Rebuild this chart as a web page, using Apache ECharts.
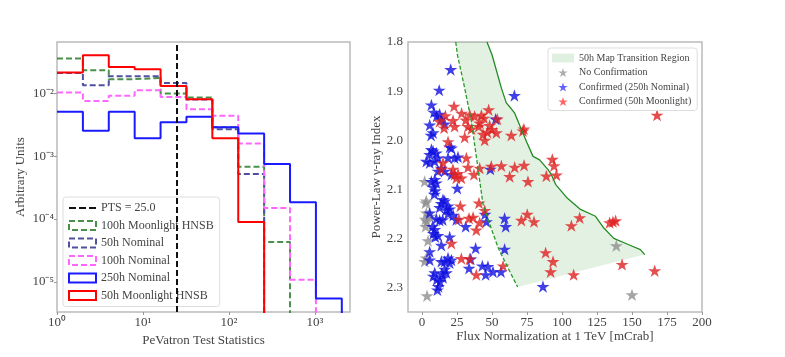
<!DOCTYPE html>
<html>
<head>
<meta charset="utf-8">
<script src="https://cdn.jsdelivr.net/npm/echarts@6/dist/echarts.min.js"></script>
<style>
html, body { margin: 0; padding: 0; background: #fff; }
#chart { width: 785px; height: 357px; }
</style>
</head>
<body>
<div id="chart"></div>
<script>
// ---- left panel: PTS histograms (bins are powers of 2) ----
const binEdges = [1, 2, 4, 8, 16, 32, 64, 128, 256, 512, 1024, 2048];
const moon100 = [0.036, 0.0234, 0.0169, 0.0177, 0.0100, 0.0086, 0.0029, 0.00068, 0.000043];
const nominal50 = [0.0212, 0.0135, 0.0188, 0.0188, 0.0147, 0.0080, 0.0027, 0.00052];
const nominal100 = [0.0104, 0.0076, 0.0092, 0.0112, 0.0088, 0.0056, 0.0044, 0.0016, 0.00015, 0.0000108];
const nominal250 = [0.0051, 0.00255, 0.0051, 0.00193, 0.00347, 0.00426, 0.0029, 0.0023, 0.000755, 0.000184, 0.0000054];
const moon50 = [0.0215, 0.0405, 0.0264, 0.0243, 0.0132, 0.0081, 0.00193, 0.0000895];
const ptsCut = 25.0;

// ---- right panel: transition region edges ----
const edgeDashX = [24.1, 25.3, 30.5, 35.3, 37.6, 43.6, 49.5, 54.5, 59, 63.5, 68.3];
const edgeDashY = [1.8, 1.826, 1.894, 1.962, 2.009, 2.131, 2.18, 2.22, 2.246, 2.272, 2.299];
const edgeSolidX = [46.4, 50, 56.7, 60.2, 63.5, 66.2, 71, 75, 79.3, 84, 90, 92.4, 95.4, 103.7, 113.2, 123.9, 129.9, 137, 147.7, 156, 159.1];
const edgeSolidY = [1.8, 1.826, 1.894, 1.924, 1.935, 1.945, 1.978, 2.005, 2.033, 2.04, 2.06, 2.07, 2.09, 2.118, 2.141, 2.155, 2.179, 2.2, 2.213, 2.223, 2.233];

// sources: [flux mCrab, index]
const noConfirm = [[1.9, 2.084], [3.1, 2.124], [2.6, 2.128], [3.1, 2.148], [5.5, 2.155], [2.4, 2.161], [3.5, 2.165],
  [2.6, 2.176], [4.3, 2.205], [1.9, 2.247], [3.1, 2.24], [3.6, 2.317], [138.8, 2.215], [150, 2.315]];
const confNominal = [[20.5, 1.856], [12.3, 1.898], [66, 1.909], [6.7, 1.928], [8.5, 1.943], [12.6, 1.947], [13.8, 1.957],
  [10.5, 1.951], [16.2, 1.967], [5.5, 1.969], [7.9, 1.985], [6.5, 1.99], [52.6, 1.957], [19.8, 2.014], [6.7, 2.019],
  [7.9, 2.022], [10.2, 2.026], [5.5, 2.029], [11.4, 2.036], [3.1, 2.043], [5.5, 2.046], [9.1, 2.043], [21, 2.016],
  [18.6, 2.036], [23.3, 2.036], [25.7, 2.034], [13.8, 2.057], [16.2, 2.063], [11.4, 2.063], [21, 2.07], [48.8, 2.059],
  [9.1, 2.08], [6.7, 2.084], [10.2, 2.087], [25.2, 2.098], [8.1, 2.096], [9.5, 2.103], [8.8, 2.11], [15, 2.121],
  [16.2, 2.124], [13.8, 2.129], [12.6, 2.137], [18.6, 2.134], [17.4, 2.142], [19.8, 2.14], [5.5, 2.148], [10.2, 2.16],
  [12.6, 2.163], [14.8, 2.162], [18.6, 2.15], [22.3, 2.153], [24.5, 2.162], [31.2, 2.176], [7.5, 2.176], [9.1, 2.182],
  [8.1, 2.19], [9.5, 2.197], [11.4, 2.194], [19.8, 2.197], [13.8, 2.214], [5.5, 2.227], [5.5, 2.244], [18.6, 2.24],
  [21, 2.244], [19.8, 2.25], [16.2, 2.247], [13.8, 2.247], [38.3, 2.22], [34.8, 2.242], [33.6, 2.261], [43.1, 2.256],
  [47.1, 2.257], [45.5, 2.274], [50.7, 2.268], [56.4, 2.268], [59, 2.159], [59.8, 2.176], [59, 2.222], [45, 2.151],
  [46, 2.166], [86.4, 2.298], [8.1, 2.277], [10.5, 2.284], [11.7, 2.298], [12.9, 2.288], [15, 2.28], [17.4, 2.27],
  [16.2, 2.263], [9.1, 2.27], [14, 2.272], [11, 2.305]];
const confMoon = [[22.9, 1.931], [16.7, 1.95], [28.3, 1.945], [34.1, 1.948], [37.6, 1.951], [42.4, 1.949], [47.6, 1.938],
  [22.2, 1.96], [23.3, 1.972], [31.2, 1.959], [32.9, 1.972], [41.2, 1.965], [44.3, 1.955], [53.8, 1.957], [15.8, 1.975],
  [12.6, 1.962], [35.3, 1.977], [40.5, 1.972], [48.3, 1.97], [50, 1.978], [43.6, 1.988], [46.7, 1.984], [53.1, 1.985],
  [30.5, 1.994], [44.8, 2.0], [63.8, 1.99], [72.1, 1.981], [72.8, 1.977], [18.6, 2.003], [93.1, 2.039], [94.3, 2.052],
  [96, 2.071], [88.8, 2.073], [75.7, 2.084], [62.6, 2.074], [66.2, 2.055], [72.9, 2.051], [56.7, 2.052], [49.5, 2.053],
  [41.2, 2.057], [32.9, 2.055], [37.1, 2.07], [28.1, 2.077], [23.3, 2.07], [22.1, 2.059], [15, 2.046], [13.8, 2.059],
  [24.5, 2.077], [25.7, 2.068], [31.7, 2.036], [167.9, 1.949], [27.4, 2.134], [40.7, 2.128], [44.8, 2.143], [26.4, 2.161],
  [33.6, 2.159], [41.2, 2.168], [38.8, 2.183], [21, 2.21], [28.1, 2.241], [34, 2.242], [38.8, 2.274], [57.9, 2.256],
  [71, 2.163], [75.2, 2.151], [80, 2.166], [106.7, 2.174], [112.6, 2.158], [134, 2.168], [136.4, 2.166], [138.3, 2.164],
  [88.3, 2.229], [93.6, 2.247], [91.9, 2.268], [108.3, 2.274], [142.9, 2.253], [166.2, 2.266], [36.5, 2.157]];

const histFloor = 1e-8; // below the axis, so each histogram drops out of view
const star = 'path://M0,-10L2.245,-3.09L9.511,-3.09L3.633,1.18L5.878,8.09L0,3.82L-5.878,8.09L-3.633,1.18L-9.511,-3.09L-2.245,-3.09Z';
const dashIcon = 'path://M0,0h7v2h-7zM10,0h7v2h-7zM20,0h7v2h-7z';
const font = 'Liberation Serif';
const textColor = '#444';

function stepPoints(vals) {
  const pts = [];
  vals.forEach((v, i) => {
    pts.push([binEdges[i], v], [binEdges[i + 1], v]);
  });
  pts.push([binEdges[vals.length], histFloor]);
  return pts;
}

const regionPolygon = edgeDashX.map((x, i) => [x, edgeDashY[i]])
  .concat(edgeSolidX.map((x, i) => [x, edgeSolidY[i]]).reverse());

const supDigits = ['\u2070', '\u00b9', '\u00b2', '\u00b3', '\u2074', '\u2075', '\u2076'];
function powLabel(v) {
  const e = Math.round(Math.log10(v));
  return '10' + (e < 0 ? '\u207b' : '') + supDigits[Math.abs(e)];
}

const hist = [
  { name: '100h Moonlight HNSB', vals: moon100, color: '#4a904a', dash: [6, 3] },
  { name: '50h Nominal', vals: nominal50, color: '#5050a0', dash: [6, 3] },
  { name: '100h Nominal', vals: nominal100, color: '#ff66ff', dash: [6, 3] },
  { name: '250h Nominal', vals: nominal250, color: '#1a1aff', dash: 'solid' },
  { name: '50h Moonlight HNSB', vals: moon50, color: '#ff0000', dash: 'solid' }
];

const chart = echarts.init(document.getElementById('chart'));

const frame = { show: true, borderColor: '#bbb', borderWidth: 1.5, backgroundColor: 'transparent' };
const tick = { show: true, length: 3, lineStyle: { color: '#999' } };

const option = {
  animation: false,
  textStyle: { fontFamily: font, color: textColor },
  grid: [
    Object.assign({ left: 57, top: 42, width: 293, height: 270 }, frame),
    Object.assign({ left: 408, top: 42, width: 294, height: 270 }, frame),
    { left: 422, top: 42, width: 280, height: 270 }
  ],
  xAxis: [
    {
      gridIndex: 0, type: 'log', logBase: 10, min: 1, max: 2550,
      name: 'PeVatron Test Statistics', nameLocation: 'middle', nameGap: 18,
      nameTextStyle: { fontSize: 13, color: textColor },
      axisLine: { show: false }, axisTick: tick, splitLine: { show: false },
      axisLabel: { formatter: powLabel, fontSize: 13, color: textColor, margin: 4, showMaxLabel: false }
    },
    {
      gridIndex: 1, type: 'value', min: -10, max: 200,
      name: 'Flux Normalization at 1 TeV [mCrab]', nameLocation: 'middle', nameGap: 18,
      nameTextStyle: { fontSize: 13, color: textColor },
      axisLine: { show: false }, axisTick: { show: false }, axisLabel: { show: false }, splitLine: { show: false }
    },
    {
      gridIndex: 2, type: 'value', min: 0, max: 200, interval: 25,
      axisLine: { show: false }, axisTick: tick, splitLine: { show: false },
      axisLabel: { fontSize: 13, color: textColor, margin: 4 }
    }
  ],
  yAxis: [
    {
      gridIndex: 0, type: 'log', logBase: 10, min: 3.3e-6, max: 0.066,
      name: 'Arbitrary Units', nameLocation: 'middle', nameGap: 30,
      nameTextStyle: { fontSize: 13, color: textColor },
      axisLine: { show: false }, axisTick: tick, splitLine: { show: false },
      axisLabel: { formatter: powLabel, fontSize: 13, color: textColor, margin: 3, showMinLabel: false, showMaxLabel: false }
    },
    {
      gridIndex: 1, type: 'value', inverse: true, min: 1.8, max: 2.35, interval: 0.1,
      name: 'Power-Law \u03b3-ray Index', nameLocation: 'middle', nameGap: 20,
      nameTextStyle: { fontSize: 13, color: textColor },
      axisLine: { show: false }, axisTick: { show: false }, splitLine: { show: false },
      axisLabel: { fontSize: 13, color: textColor, margin: 5, showMaxLabel: false, formatter: v => v.toFixed(1) }
    },
    { gridIndex: 2, type: 'value', show: false, min: 0, max: 1 }
  ],
  legend: [
    {
      left: 63, top: 197, orient: 'vertical',
      itemWidth: 27, itemHeight: 9, itemGap: 5.5,
      backgroundColor: 'rgba(255,255,255,0.8)', borderColor: '#ddd', borderWidth: 1, borderRadius: 3,
      padding: [5, 6, 5, 5],
      textStyle: { fontSize: 12, color: textColor, fontFamily: font },
      data: [{ name: 'PTS = 25.0', icon: dashIcon, itemStyle: { color: '#111', borderWidth: 0 } }]
        .concat(hist.map(h => ({
          name: h.name, icon: 'rect',
          itemStyle: { color: 'rgba(255,255,255,0)', borderColor: h.color, borderWidth: 2, borderType: h.dash }
        })))
    },
    {
      left: 548, top: 48, orient: 'vertical',
      itemWidth: 22, itemHeight: 9, itemGap: 4.5,
      backgroundColor: 'rgba(255,255,255,0.8)', borderColor: '#ddd', borderWidth: 1, borderRadius: 3,
      padding: [5, 6, 4, 4],
      textStyle: { fontSize: 10, color: textColor, fontFamily: font },
      data: [
        { name: '50h Map Transition Region', icon: 'rect', itemStyle: { color: 'rgba(0,128,0,0.12)' } },
        { name: 'No Confirmation', icon: star, itemStyle: { color: '#9a9a9a' } },
        { name: 'Confirmed (250h Nominal)', icon: star, itemStyle: { color: '#3c3cff' } },
        { name: 'Confirmed (50h Moonlight)', icon: star, itemStyle: { color: '#ff4040' } }
      ]
    }
  ],
  series: hist.map(h => ({
    name: h.name, type: 'line', xAxisIndex: 0, yAxisIndex: 0,
    data: stepPoints(h.vals), symbol: 'none',
    lineStyle: { color: h.color, width: 2, type: h.dash }, itemStyle: { color: h.color }
  })).concat([
    {
      name: 'PTS = 25.0', type: 'line', xAxisIndex: 0, yAxisIndex: 0, data: [], symbol: 'none',
      lineStyle: { color: '#111', width: 2, type: [6, 3] }, itemStyle: { color: '#111' },
      markLine: {
        silent: true, symbol: 'none', label: { show: false },
        lineStyle: { color: '#111', width: 2, type: [6, 3] },
        data: [{ xAxis: ptsCut }]
      }
    },
    {
      name: '50h Map Transition Region', type: 'custom', xAxisIndex: 1, yAxisIndex: 1,
      data: regionPolygon, itemStyle: { color: 'rgba(0,128,0,0.12)' },
      renderItem: (params, api) => {
        if (params.dataIndex !== 0) return null;
        return {
          type: 'polygon',
          shape: { points: regionPolygon.map(p => api.coord(p)) },
          style: { fill: 'rgba(0,128,0,0.11)' }
        };
      }
    },
    {
      name: 'edgeDash', type: 'line', xAxisIndex: 1, yAxisIndex: 1, symbol: 'none',
      data: edgeDashX.map((x, i) => [x, edgeDashY[i]]),
      lineStyle: { color: '#2a9a2a', width: 1.3, type: [4, 2] }
    },
    {
      name: 'edgeSolid', type: 'line', xAxisIndex: 1, yAxisIndex: 1, symbol: 'none',
      data: edgeSolidX.map((x, i) => [x, edgeSolidY[i]]),
      lineStyle: { color: '#228b22', width: 1.3 }
    },
    {
      name: 'No Confirmation', type: 'scatter', xAxisIndex: 1, yAxisIndex: 1,
      data: noConfirm, symbol: star, symbolSize: 13, symbolKeepAspect: true,
      itemStyle: { color: '#8f8f8f', opacity: 0.8 }
    },
    {
      name: 'Confirmed (250h Nominal)', type: 'scatter', xAxisIndex: 1, yAxisIndex: 1,
      data: confNominal, symbol: star, symbolSize: 13, symbolKeepAspect: true,
      itemStyle: { color: '#1010e0', opacity: 0.8 }
    },
    {
      name: 'Confirmed (50h Moonlight)', type: 'scatter', xAxisIndex: 1, yAxisIndex: 1,
      data: confMoon, symbol: star, symbolSize: 13, symbolKeepAspect: true,
      itemStyle: { color: '#e02020', opacity: 0.8 }
    }
  ])
};

chart.setOption(option);
</script>
</body>
</html>
